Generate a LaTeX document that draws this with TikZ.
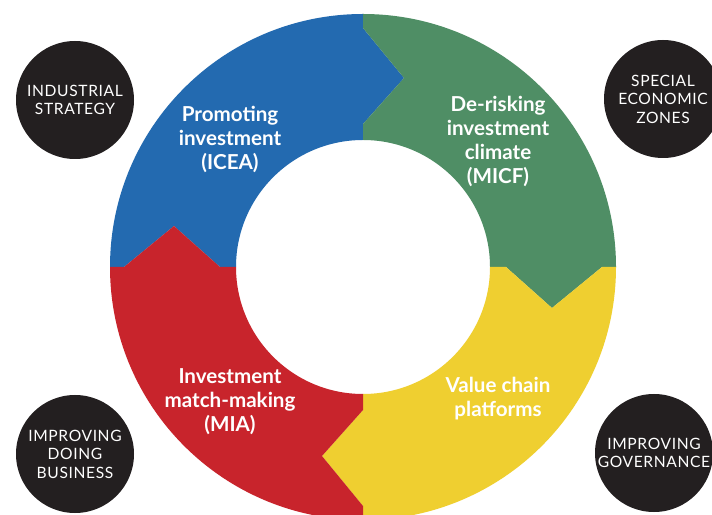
\documentclass[tikz,border=0pt]{standalone}
\usepackage{fontspec}
\setmainfont{Lato}
\newfontfamily\latocap[LetterSpace=4]{Lato}
\definecolor{cblue}{RGB}{35,106,176}
\definecolor{cgreen}{RGB}{79,142,101}
\definecolor{cyellow}{RGB}{239,207,48}
\definecolor{cred}{RGB}{200,36,44}
\definecolor{cdark}{RGB}{35,31,32}
\begin{document}
\begin{tikzpicture}[x=1pt,y=1pt,
  darkcirc/.style={circle,fill=cdark,minimum size=118pt,inner sep=0pt,text=white,align=center,font=\latocap\fontsize{15.6}{18.5}\selectfont},
  ringlabel/.style={text=white,align=center,inner sep=0pt,font=\bfseries\fontsize{20.6}{24}\selectfont}]
\clip (0,0) rectangle (712,514);
\fill[white] (0,0) rectangle (712,514);
\begin{scope}[shift={(363,247)}]
% blue
\fill[cblue] (-253,0) arc[start angle=180,end angle=90,radius=253] -- (0,239) -- (41,189) -- (0,143) -- (0,127)
  arc[start angle=90,end angle=180,radius=127] -- (-143,0) -- (-189,41) -- (-239,0) -- cycle;
% green
\fill[cgreen] (0,253) arc[start angle=90,end angle=0,radius=253] -- (239,0) -- (189,-41) -- (143,0) -- (127,0)
  arc[start angle=0,end angle=90,radius=127] -- (0,143) -- (41,189) -- (0,239) -- cycle;
% yellow
\fill[cyellow] (253,0) arc[start angle=0,end angle=-90,radius=253] -- (0,-239) -- (-41,-189) -- (0,-143) -- (0,-127)
  arc[start angle=-90,end angle=0,radius=127] -- (143,0) -- (189,-41) -- (239,0) -- cycle;
% red
\fill[cred] (0,-253) arc[start angle=-90,end angle=-180,radius=253] -- (-239,0) -- (-189,41) -- (-143,0) -- (-127,0)
  arc[start angle=180,end angle=270,radius=127] -- (0,-143) -- (-41,-189) -- (0,-239) -- cycle;
\end{scope}
\node[ringlabel] (promo) at (230,375) {Promoting\\investment\\(ICEA)};
\node[ringlabel] (derisk) at (498,373) {De-risking\\investment\\climate\\(MICF)};
\node[ringlabel] (match) at (230,112) {Investment\\match-making\\(MIA)};
\node[ringlabel] (value) at (498,115) {Value chain\\platforms};
\node[darkcirc] (indus) at (75,414) {INDUSTRIAL\\STRATEGY};
\node[darkcirc] (sez) at (663,415) {SPECIAL\\ECONOMIC\\ZONES};
\node[darkcirc] (idb) at (75,60) {IMPROVING\\DOING\\BUSINESS};
\node[darkcirc] (igov) at (654,61) {IMPROVING\\GOVERNANCE};
\end{tikzpicture}
\end{document}
